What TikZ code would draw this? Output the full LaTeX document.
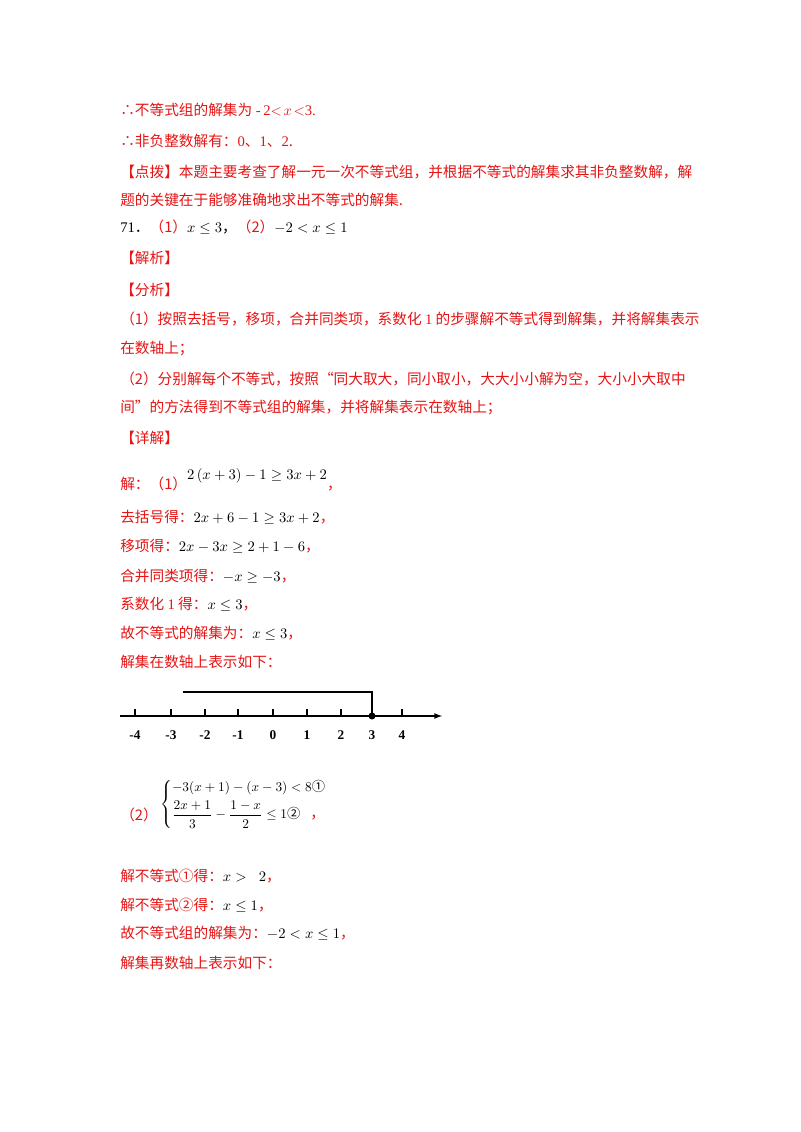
\documentclass[tikz,border=0pt]{standalone}
\usepackage{fontspec}
\setmainfont{Noto Sans CJK SC}
\newfontfamily\serif{Liberation Serif}
\usepackage{amsmath}
\definecolor{rd}{RGB}{230,20,20}
\begin{document}
\begin{tikzpicture}[x=0.75pt,y=-0.75pt,
 t/.style={anchor=west,inner sep=0pt,font=\fontsize{11}{13}\selectfont,text=rd},
 k/.style={anchor=west,inner sep=0pt,font=\fontsize{11}{13}\selectfont,text=black},
 lab/.style={inner sep=0pt,font=\serif\bfseries\fontsize{10}{12}\selectfont}]
\useasboundingbox[fill=white] (0,0) rectangle (800,1132);
\node[t] (l1) at (120,110) {∴不等式组的解集为{\serif\ -\,2}$<\!x\!<$\serif 3.};
\node[t] (l2) at (120,141) {∴非负整数解有：{\serif 0}、{\serif 1}、{\serif 2}.};
\node[t] (l3) at (120,172) {【点拨】本题主要考查了解一元一次不等式组，并根据不等式的解集求其非负整数解，解};
\node[t] (l4) at (120,200) {题的关键在于能够准确地求出不等式的解集.};
\node[k] (l5) at (120,227) {{\serif 71}．\textcolor{rd}{（1）}$x\le 3$，\textcolor{rd}{（2）}$-2<x\le 1$};
\node[t] (l6) at (120,258) {【解析】};
\node[t] (l7) at (120,290) {【分析】};
\node[t] (l8) at (120,319) {（1）按照去括号，移项，合并同类项，系数化 {\serif 1} 的步骤解不等式得到解集，并将解集表示};
\node[t] (l9) at (120,349) {在数轴上；};
\node[t] (l10) at (120,379) {（2）分别解每个不等式，按照“同大取大，同小取小，大大小小解为空，大小小大取中};
\node[t] (l11) at (120,407) {间”的方法得到不等式组的解集，并将解集表示在数轴上；};
\node[t] (l12) at (120,438) {【详解】};
\node[t] (l13) at (120,480) {解：（1）\raisebox{1.2ex}{\textcolor{black}{$2\left(x+3\right)-1\ge 3x+2$}}，};
\node[t] (l14) at (120,517) {去括号得：\textcolor{black}{$2x+6-1\ge 3x+2$}，};
\node[t] (l15) at (120,546) {移项得：\textcolor{black}{$2x-3x\ge 2+1-6$}，};
\node[t] (l16) at (120,576) {合并同类项得：\textcolor{black}{$-x\ge -3$}，};
\node[t] (l17) at (120,604) {系数化 {\serif 1} 得：\textcolor{black}{$x\le 3$}，};
\node[t] (l18) at (120,633) {故不等式的解集为：\textcolor{black}{$x\le 3$}，};
\node[t] (l19) at (120,662) {解集在数轴上表示如下：};
% number line
\coordinate (a0) at (120,716); \coordinate (a1) at (442,716);
\draw[line width=1pt,-latex] (a0) -- (a1);
\foreach \v/\xx in {-4/135,-3/171,-2/205,-1/238,0/273,1/307,2/341,3/372,4/402}{
  \draw[line width=0.8pt] (\xx,716) -- (\xx,709);
  \node[lab] (n\xx) at (\xx,735) {\v};
}
\coordinate (p0) at (183,692); \coordinate (p1) at (372,692); \coordinate (p2) at (372,716);
\draw[line width=1.1pt] (p0) -- (p1) -- (p2);
\fill (p2) circle (3.5);
% system
\node[t] (s0) at (120,815) {（2）};
\node[k,anchor=west,font=\fontsize{10}{12}\selectfont] (sys) at (160,804) {$\left\{\begin{array}{@{}l@{}}
 -3(x+1)-(x-3)<8\text{①}\\[4pt]
 \dfrac{2x+1}{3}-\dfrac{1-x}{2}\le 1\text{②}
 \end{array}\right.$};
\node[t] (s1) at (310,818) {，};
\node[t] (l20) at (120,876) {解不等式①得：\textcolor{black}{$x>\;\;2$}，};
\node[t] (l21) at (120,905) {解不等式②得：\textcolor{black}{$x\le 1$}，};
\node[t] (l22) at (120,933) {故不等式组的解集为：\textcolor{black}{$-2<x\le 1$}，};
\node[t] (l23) at (120,963) {解集再数轴上表示如下：};
\end{tikzpicture}
\end{document}
